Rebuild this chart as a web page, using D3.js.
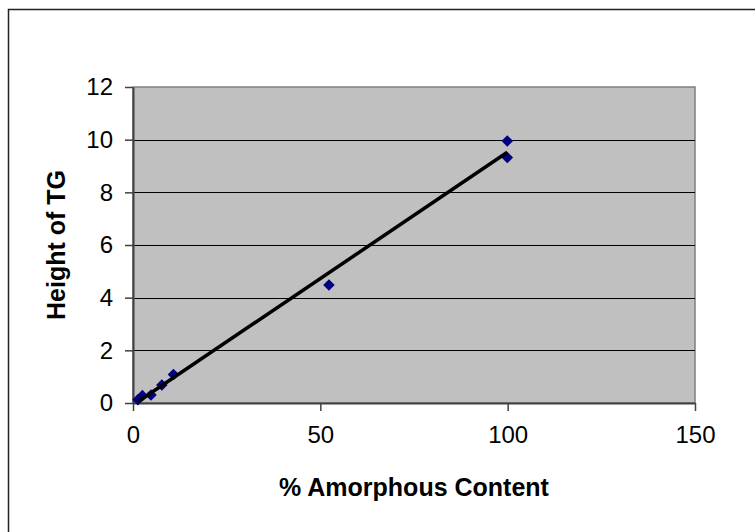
<!DOCTYPE html>
<html>
<head>
<meta charset="utf-8">
<script src="https://cdn.jsdelivr.net/npm/d3@7"></script>
<style>
  body { margin: 0; background: #fff; }
  text { font-family: "Liberation Sans", Arial, sans-serif; }
</style>
</head>
<body>
<div id="chart"></div>
<script>
"use strict";

// % amorphous content vs TG step height
let amorphous = [1.3, 2.5, 4.8, 7.7, 10.8, 52.3, 99.9, 99.9];
let heightTG = [0.12, 0.28, 0.3, 0.68, 1.08, 4.48, 9.95, 9.32];
let xTicks = [0, 50, 100, 150];
let yTicks = [0, 2, 4, 6, 8, 10, 12];

let width = 755;
let height = 532;
let plot = { left: 133, top: 87, right: 695, bottom: 403 };

let svg = d3.select('#chart')
  .append('svg')
  .attr('width', width)
  .attr('height', height);

// outer chart border
svg.append('rect')
  .attr('x', 8.5)
  .attr('y', 9.5)
  .attr('width', 800)
  .attr('height', 600)
  .attr('fill', 'none')
  .attr('stroke', '#222')
  .attr('stroke-width', 1.5);

let x = d3.scaleLinear()
  .domain([0, 150])
  .range([plot.left, plot.right]);

let y = d3.scaleLinear()
  .domain([0, 12])
  .range([plot.bottom, plot.top]);

svg.append('rect')
  .attr('x', plot.left)
  .attr('y', plot.top)
  .attr('width', plot.right - plot.left)
  .attr('height', plot.bottom - plot.top)
  .attr('fill', '#c0c0c0')
  .attr('stroke', '#808080')
  .attr('stroke-width', 1.5);

// horizontal gridlines
svg.append('g')
  .selectAll('line')
  .data(yTicks.filter(d => d > 0 && d < 12))
  .enter()
  .append('line')
  .attr('x1', plot.left)
  .attr('x2', plot.right)
  .attr('y1', d => Math.round(y(d)) + 0.5)
  .attr('y2', d => Math.round(y(d)) + 0.5)
  .attr('stroke', '#000')
  .attr('stroke-width', 1);

let xAxis = svg.append('g')
  .attr('transform', 'translate(0, ' + plot.bottom + ')')
  .call(d3.axisBottom(x).tickValues(xTicks).tickSize(8).tickPadding(15).tickSizeOuter(0));

let yAxis = svg.append('g')
  .attr('transform', 'translate(' + plot.left + ', 0)')
  .call(d3.axisLeft(y).tickValues(yTicks).tickSize(8).tickPadding(12).tickSizeOuter(0));

[xAxis, yAxis].forEach(ax => {
  ax.select('.domain').attr('stroke', '#404040').attr('stroke-width', 2);
  ax.selectAll('.tick line').attr('stroke', '#404040').attr('stroke-width', 1.5);
  ax.selectAll('.tick text')
    .attr('fill', '#000')
    .style('font-family', '"Liberation Sans", Arial, sans-serif')
    .style('font-size', '24px');
});

// linear trendline (least squares), drawn over the data's x range
let mx = d3.mean(amorphous);
let my = d3.mean(heightTG);
let sxy = d3.sum(amorphous, (v, i) => (v - mx) * (heightTG[i] - my));
let sxx = d3.sum(amorphous, v => (v - mx) * (v - mx));
let slope = sxy / sxx;
let intercept = my - slope * mx;
let xExt = d3.extent(amorphous);

let line = d3.line()
  .x(d => x(d))
  .y(d => y(intercept + slope * d));

// diamonds
let diamond = d3.symbol().type(d3.symbolDiamond2).size(85);
svg.append('g')
  .selectAll('path')
  .data(amorphous.map((v, i) => ({ x: v, y: heightTG[i] })))
  .enter()
  .append('path')
  .attr('d', diamond)
  .attr('transform', d => 'translate(' + x(d.x) + ', ' + y(d.y) + ')')
  .attr('fill', '#000080');

// trendline sits over the markers
svg.append('path')
  .datum(xExt)
  .attr('d', line)
  .attr('fill', 'none')
  .attr('stroke', '#000')
  .attr('stroke-width', 3.5);

svg.append('text')
  .attr('x', (plot.left + plot.right) / 2)
  .attr('y', 496)
  .attr('text-anchor', 'middle')
  .style('font-size', '25px')
  .style('font-weight', 'bold')
  .text('% Amorphous Content');

svg.append('text')
  .attr('transform', 'translate(65, ' + (plot.top + plot.bottom) / 2 + ') rotate(-90)')
  .attr('text-anchor', 'middle')
  .style('font-size', '25px')
  .style('font-weight', 'bold')
  .text('Height of TG');
</script>
</body>
</html>
